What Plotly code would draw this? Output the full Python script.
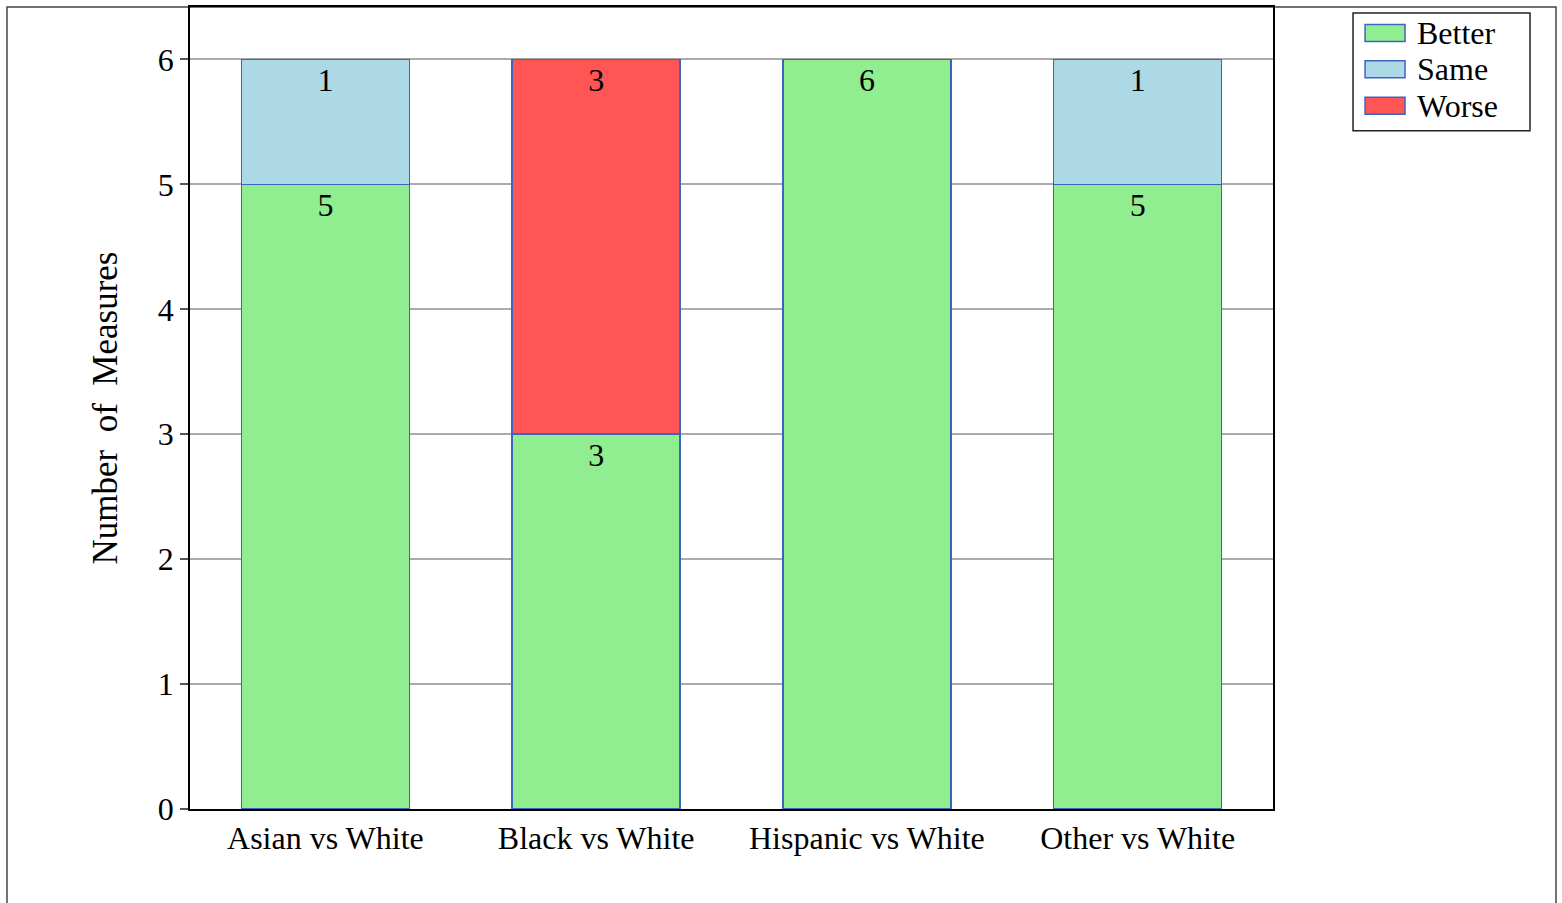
import plotly.graph_objects as go

# Measures by comparison group, split by outcome
categories = ["Asian vs White", "Black vs White", "Hispanic vs White", "Other vs White"]
better = [5, 3, 6, 5]
same = [1, 0, 0, 1]
worse = [0, 3, 0, 0]

series = [
    ("Better", better, "#90ee90"),
    ("Same", same, "#add8e6"),
    ("Worse", worse, "#ff5555"),
]

FONT = "Liberation Serif"
EDGE = "#3f63c0"

fig = go.Figure()
for name, values, color in series:
    fig.add_trace(go.Bar(
        name=name,
        x=categories,
        y=values,
        marker=dict(color=color, line=dict(color=EDGE, width=1.5)),
        text=[str(v) if v else "" for v in values],
        textposition="inside",
        insidetextanchor="end",
        textangle=0,
        constraintext="none",
        textfont=dict(family=FONT, size=32, color="black"),
        cliponaxis=False,
        showlegend=False,
    ))

# outer page frame around the whole figure
fig.add_shape(type="rect", xref="paper", yref="paper",
              x0=-0.169, x1=1.2613, y0=-0.14, y1=1.0,
              line=dict(color="#444", width=1.5), layer="below")

# legend box with wide colour swatches
fig.add_shape(type="rect", xref="paper", yref="paper",
              x0=1.0739, x1=1.2373, y0=0.8458, y1=0.9925,
              line=dict(color="#222", width=1.5), fillcolor="white")
row_top = 0.9677      # paper y of first legend row centre
row_step = 0.0454     # paper distance between legend rows
half_h = 0.0106
for i, (name, _, color) in enumerate(series):
    yc = row_top - i * row_step
    fig.add_shape(type="rect", xref="paper", yref="paper",
                  x0=1.0850, x1=1.1219, y0=yc - half_h, y1=yc + half_h,
                  line=dict(color=EDGE, width=1.5), fillcolor=color)
    fig.add_annotation(xref="paper", yref="paper", x=1.1310, y=yc,
                       xanchor="left", yanchor="middle", showarrow=False,
                       text=name, font=dict(family=FONT, size=32, color="black"))

fig.update_layout(
    barmode="stack",
    bargap=0.38,
    width=1562,
    height=903,
    margin=dict(l=190, r=289, t=5, b=94),
    paper_bgcolor="white",
    plot_bgcolor="white",
    font=dict(family=FONT, size=32, color="black"),
    showlegend=False,
    xaxis=dict(
        showline=True, linecolor="black", linewidth=1.5, mirror=True,
        ticks="", tickfont=dict(family=FONT, size=32),
        showgrid=False,
    ),
    yaxis=dict(
        range=[0, 6.42],
        tickvals=[0, 1, 2, 3, 4, 5, 6],
        showline=True, linecolor="black", linewidth=1.5, mirror=True,
        ticks="outside", ticklen=8, tickcolor="#555", tickwidth=1.5,
        tickfont=dict(family=FONT, size=32),
        showgrid=True, gridcolor="#aaaaaa", gridwidth=1.5,
        zeroline=False,
        title=dict(text="Number  of  Measures", font=dict(family=FONT, size=35), standoff=30),
    ),
)

fig.write_html("out.html")
